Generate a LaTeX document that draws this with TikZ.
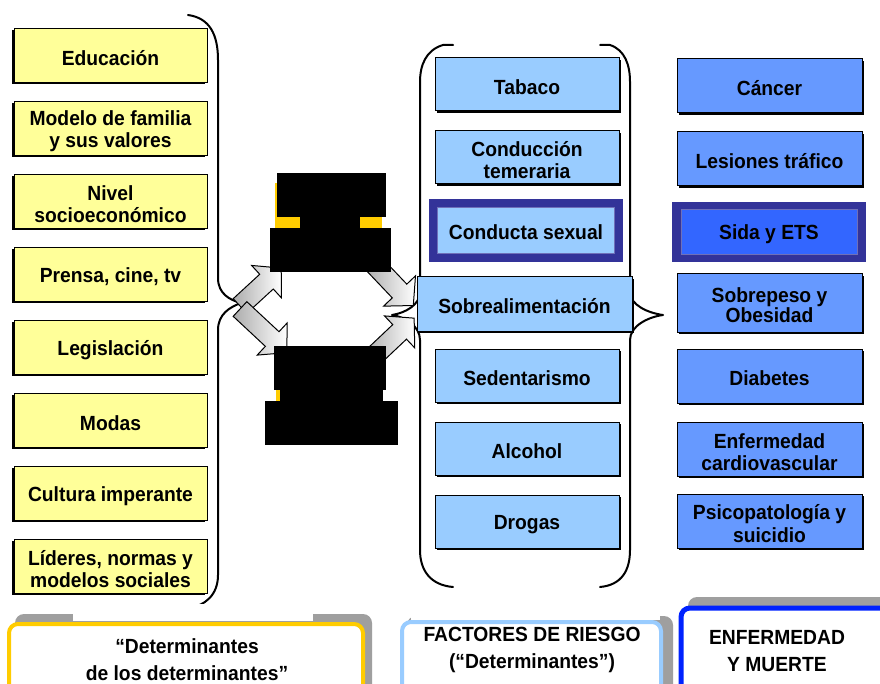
\documentclass[tikz,border=0pt]{standalone}
\usepackage{fontspec}
\setmainfont{Liberation Sans}[FakeStretch=0.94]
\usetikzlibrary{shadows}
\definecolor{yel}{HTML}{FFFF99}
\definecolor{lblue}{HTML}{99CCFF}
\definecolor{mblue}{HTML}{6699FF}
\definecolor{navy}{HTML}{333399}
\definecolor{sida}{HTML}{3366FF}
\definecolor{gold}{HTML}{FFCC00}
\definecolor{bblue}{HTML}{0022FF}
\newcommand\barrow[4]{\begin{scope}[shift={(#1,#2)},rotate=#3]
  \path[blockarrow] (0,-10)--(#4-20,-10)--(#4-20,-22)--(#4,0)--(#4-20,22)--(#4-20,10)--(0,10)--cycle;
\end{scope}}
\begin{document}
\begin{tikzpicture}[x=1pt,y=-1pt,
  txt/.style={font=\fontsize{20.5}{22.5}\selectfont\bfseries, align=center, inner sep=0pt},
  t/.style={label={[txt, yshift=-2.5pt]center:{#1}}},
  ybox/.style={draw=black, line width=1pt, fill=yel, minimum width=193pt, minimum height=54pt, inner sep=0pt,
    drop shadow={shadow xshift=-1.8pt, shadow yshift=-1.8pt, fill=black, opacity=1}},
  lbox/.style={draw=black, line width=1pt, fill=lblue, minimum width=184pt, minimum height=53pt, inner sep=0pt,
    drop shadow={shadow xshift=1.8pt, shadow yshift=-1.8pt, fill=black, opacity=1}},
  rbox/.style={draw=black, line width=1pt, fill=mblue, minimum width=185pt, minimum height=54pt, inner sep=0pt,
    drop shadow={shadow xshift=1.8pt, shadow yshift=-1.8pt, fill=black, opacity=1}},
  brace/.style={line width=2pt, line join=round, line cap=round},
  blockarrow/.style={draw=black, line width=1pt, left color=gray!65, right color=white},
  lab/.style={font=\fontsize{20.5}{27}\selectfont\bfseries, align=center, inner sep=0pt},
]
\clip (0,0) rectangle (880,684);
\fill[white] (0,0) rectangle (880,684);

% braces
\draw[brace] (188,15) .. controls (210,18) and (218,35) .. (218,60) -- (218,278)
  .. controls (218,294) and (230,300) .. (241,303) .. controls (230,307) and (218,314) .. (218,330)
  -- (218,575) .. controls (218,595) and (205,606) .. (188,608);
\draw[brace] (453,45) -- (443,45) .. controls (426,50) and (420,65) .. (420,82) -- (420,292)
  .. controls (420,305) and (405,313) .. (392,315) .. controls (405,317) and (420,326) .. (420,340)
  -- (420,550) .. controls (420,570) and (430,585) .. (453,587);
\draw[brace] (600,45) -- (610,45) .. controls (625,50) and (630,65) .. (630,82) -- (630,292)
  .. controls (630,305) and (648,313) .. (663,315) .. controls (648,317) and (630,326) .. (630,340)
  -- (630,550) .. controls (630,570) and (622,585) .. (600,587);

% block arrows
\barrow{240}{306}{42.6}{56}
\barrow{240}{309}{-43}{64}
\barrow{372}{262}{-46.5}{60}
\barrow{372}{358}{43.4}{58}

% black blocks
\fill[gold] (275,183) rectangle (382,228);
\fill[black] (277,173) rectangle (386,217);
\fill[black] (300,216) rectangle (360,229);
\fill[black] (270,228) rectangle (391,272);
\fill[gold] (276,389) rectangle (280,401);
\fill[black] (274,346) rectangle (386,390);
\fill[black] (280,389) rectangle (383,402);
\fill[black] (265,401) rectangle (398,445);

% left column
\node[ybox, t={Educación}] (edu) at (110.5,55.5) {};
\node[ybox, t={Modelo de familia\\y sus valores}] (fam) at (110.5,128.5) {};
\node[ybox, t={Nivel\\socioeconómico}] (niv) at (110.5,201.5) {};
\node[ybox, t={Prensa, cine, tv}] (pre) at (110.5,274.5) {};
\node[ybox, t={Legislación}] (leg) at (110.5,347.5) {};
\node[ybox, t={Modas}] (mod) at (110.5,420.5) {};
\node[ybox, t={Cultura imperante}] (cul) at (110.5,493.5) {};
\node[ybox, t={Líderes, normas y\\modelos sociales}] (lid) at (110.5,566.5) {};

% middle column
\node[lbox, t={Tabaco}] (tab) at (527,84.5) {};
\node[lbox, t={Conducción\\temeraria}] (con) at (527,157.5) {};
\node[fill=navy, minimum width=194pt, minimum height=63pt, inner sep=0pt] (sexo) at (526,230.5) {};
\node[fill=lblue, draw=navy!70, line width=0.6pt, minimum width=177pt, minimum height=46pt, inner sep=0pt, t={Conducta sexual}] (sex) at (526,230) {};
\node[lbox, minimum width=215pt, minimum height=54pt, t={Sobrealimentación}] (sob) at (524.5,304) {};
\node[lbox, t={Sedentarismo}] (sed) at (527,375.5) {};
\node[lbox, t={Alcohol}] (alc) at (527,449) {};
\node[lbox, t={Drogas}] (dro) at (527,522) {};

% right column
\node[rbox, t={Cáncer}] (can) at (769.5,86) {};
\node[rbox, t={Lesiones tráfico}] (les) at (769.5,159) {};
\node[fill=navy, minimum width=194pt, minimum height=60pt, inner sep=0pt] (sidao) at (769,232) {};
\node[fill=sida, draw=navy!70, line width=0.6pt, minimum width=176pt, minimum height=45pt, inner sep=0pt, t={Sida y ETS}] (sid) at (769,231.5) {};
\node[rbox, minimum height=58pt, label={[txt, font=\fontsize{20.5}{18.5}\selectfont\bfseries, yshift=-2.5pt]center:{Sobrepeso y\\Obesidad}}] (obe) at (769.5,303) {};
\node[rbox, t={Diabetes}] (dia) at (769.5,376) {};
\node[rbox, t={Enfermedad\\cardiovascular}] (car) at (769.5,449.5) {};
\node[rbox, t={Psicopatología y\\suicidio}] (psi) at (769.5,521) {};

% bottom labels
\fill[gray!75, rounded corners=9pt] (15,614) rectangle (372,710);
\fill[white] (73,604) rectangle (313,621);
\draw[gold, line width=4pt, fill=white, rounded corners=9pt] (9,624) rectangle (363,710);
\node[lab] (l1) at (187,660) {“Determinantes\\de los determinantes”};

\fill[gray!75, rounded corners=9pt] (407,616) rectangle (673,710);
\fill[white] (411,604) rectangle (660,619.5);
\draw[lblue, line width=4pt, fill=white, rounded corners=9pt] (402,622) rectangle (661,710);
\node[lab] (l2) at (532,650) {FACTORES DE RIESGO\\(“Determinantes”)};

\fill[gray!75, rounded corners=9pt] (688,597) rectangle (900,710);
\draw[bblue, line width=5pt, fill=white, rounded corners=9pt] (681,608) rectangle (900,710);
\node[lab] (l3) at (777,651) {ENFERMEDAD\\Y MUERTE};
\end{tikzpicture}
\end{document}
